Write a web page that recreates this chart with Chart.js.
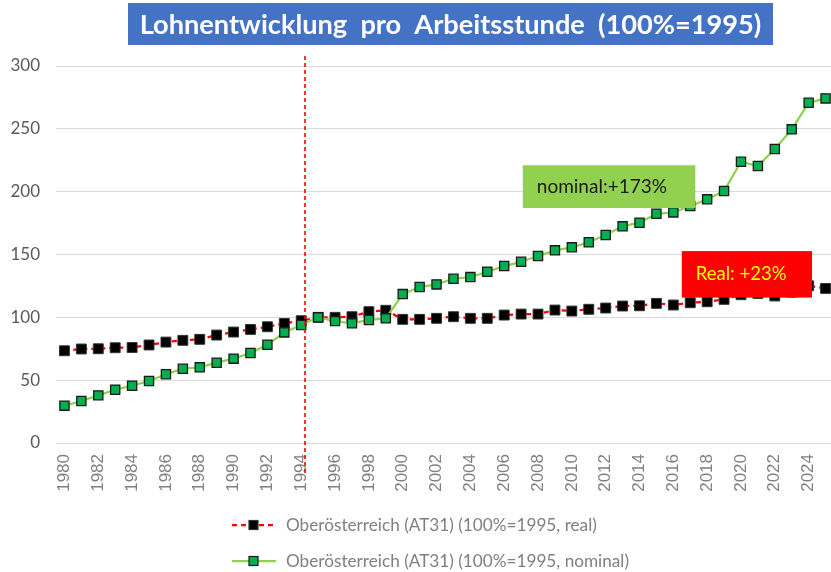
<!DOCTYPE html>
<html>
<head>
<meta charset="utf-8">
<script src="https://cdn.jsdelivr.net/npm/chart.js@4.4.1/dist/chart.umd.min.js"></script>
<style>
  html, body { margin: 0; padding: 0; background: #fff; overflow: hidden; }
  #wrap { width: 831px; height: 572px; position: relative; overflow: hidden; }
</style>
</head>
<body>
<div id="wrap"><canvas id="c" width="842" height="572"></canvas></div>
<script>
// ---- data ----
const years = [];
for (let y = 1980; y <= 2025; y++) years.push(String(y));

const realValues = [
  73.4, 74.8, 75.0, 75.8, 76.0, 78.0, 80.3, 81.7, 82.5, 85.9,
  88.3, 90.4, 92.5, 95.2, 97.3, 100.0, 100.0, 100.5, 104.5, 105.6,
  98.4, 98.4, 99.2, 100.5, 99.2, 99.2, 101.8, 102.6, 102.6, 105.8,
  105.0, 106.4, 107.4, 109.0, 109.2, 111.1, 109.8, 111.6, 112.4, 114.3,
  118.0, 119.0, 117.0, 120.0, 125.1, 123.0
];
const nominalValues = [
  29.7, 33.4, 37.9, 42.4, 45.6, 49.3, 54.7, 59.1, 60.2, 63.9,
  67.1, 71.6, 78.2, 88.0, 93.9, 100.0, 97.0, 95.2, 97.9, 99.2,
  118.5, 124.1, 126.2, 130.7, 132.0, 136.3, 140.8, 144.2, 148.8, 153.3,
  155.7, 159.7, 165.5, 172.4, 175.3, 182.4, 183.5, 188.5, 193.9, 200.5,
  223.8, 220.4, 233.9, 249.6, 270.7, 274.2
];
const seriesLabels = [
  'Oberösterreich (AT31) (100%=1995, real)',
  'Oberösterreich (AT31) (100%=1995, nominal)'
];
const yTicks = [0, 50, 100, 150, 200, 250, 300];
const titleText = 'Lohnentwicklung  pro  Arbeitsstunde  (100%=1995)';
const noteNominal = 'nominal:+173%';
const noteReal = 'Real: +23%';
const markerYear = 1994;

// ---- plugins ----
const decorPlugin = {
  id: 'decor',
  afterDatasetsDraw(chart) {
    const ctx = chart.ctx;
    const xs = chart.scales.x, ys = chart.scales.y;
    const ca = chart.chartArea;
    ctx.save();
    // vertical dashed marker line
    const idx = years.indexOf(String(markerYear)) + 0.25;
    const lx = Math.round(xs.getPixelForValue(idx));
    ctx.strokeStyle = '#FF0000';
    ctx.lineWidth = 1.6;
    ctx.setLineDash([4, 3]);
    ctx.beginPath();
    ctx.moveTo(lx, ca.top - 10);
    ctx.lineTo(lx, ca.bottom + 31);
    ctx.stroke();
    ctx.setLineDash([]);

    // annotation boxes (data coordinates: category index / value)
    const boxes = [
      { x0: 27.1, x1: 37.3, y0: 187, y1: 221, fill: '#92D050', color: '#1a1a1a', text: noteNominal, pad: 14, size: 19 },
      { x0: 36.5, x1: 44.2, y0: 115.7, y1: 152.7, fill: '#FF0000', color: '#FFFF00', text: noteReal, pad: 14, size: 18.5 }
    ];
    boxes.forEach(b => {
      const px0 = xs.getPixelForValue(b.x0), px1 = xs.getPixelForValue(b.x1);
      const py0 = ys.getPixelForValue(b.y1), py1 = ys.getPixelForValue(b.y0);
      ctx.fillStyle = b.fill;
      ctx.fillRect(px0, py0, px1 - px0, py1 - py0);
      ctx.fillStyle = b.color;
      ctx.font = b.size + 'px Lato';
      ctx.textBaseline = 'middle';
      ctx.textAlign = 'left';
      ctx.fillText(b.text, px0 + b.pad, (py0 + py1) / 2);
    });
    ctx.restore();
  },
  afterDraw(chart) {
    const ctx = chart.ctx;
    ctx.save();
    // title box
    ctx.fillStyle = '#4472C4';
    ctx.fillRect(128, 3, 645, 42);
    let fs = 28;
    ctx.font = 'bold ' + fs + 'px Lato';
    const w = ctx.measureText(titleText).width;
    fs = Math.min(30, fs * 622 / w);
    ctx.font = 'bold ' + fs + 'px Lato';
    ctx.fillStyle = '#ffffff';
    ctx.textAlign = 'center';
    ctx.textBaseline = 'middle';
    ctx.fillText(titleText, 128 + 645 / 2, 25);

    // custom legend (two stacked rows)
    const ds = chart.data.datasets;
    const order = [1, 0]; // real first, nominal second
    const rowY = [525, 561];
    order.forEach((di, r) => {
      const d = ds[di];
      const y = rowY[r];
      ctx.strokeStyle = d.borderColor;
      ctx.lineWidth = 2.25;
      ctx.setLineDash(d.borderDash || []);
      ctx.beginPath();
      ctx.moveTo(232, y);
      ctx.lineTo(276, y);
      ctx.stroke();
      ctx.setLineDash([]);
      ctx.fillStyle = d.pointBackgroundColor;
      ctx.fillRect(249, y - 4.5, 9, 9);
      ctx.strokeStyle = d.pointBorderColor;
      ctx.lineWidth = 1.2;
      ctx.strokeRect(249, y - 4.5, 9, 9);
      ctx.fillStyle = '#808080';
      ctx.font = '17.2px Lato';
      ctx.textAlign = 'left';
      ctx.textBaseline = 'middle';
      ctx.fillText(d.label, 286, y);
    });
    ctx.restore();
  }
};

new Chart(document.getElementById('c'), {
  type: 'line',
  data: {
    labels: years,
    datasets: [
      {
        label: seriesLabels[1],
        data: nominalValues,
        borderColor: '#92D050',
        borderWidth: 2.25,
        pointStyle: 'rect',
        pointRadius: 6.5,
        pointBackgroundColor: '#00B050',
        pointBorderColor: '#1a1a1a',
        pointBorderWidth: 1.3,
        tension: 0
      },
      {
        label: seriesLabels[0],
        data: realValues,
        borderColor: '#FF0000',
        borderWidth: 2.25,
        borderDash: [5, 4],
        pointStyle: 'rect',
        pointRadius: 7,
        pointBackgroundColor: '#000000',
        pointBorderColor: '#333333',
        pointBorderWidth: 1,
        tension: 0
      }
    ]
  },
  options: {
    responsive: false,
    animation: false,
    events: [],
    layout: { padding: { top: 66, left: 0, right: 0, bottom: 79 } },
    plugins: { legend: { display: false }, title: { display: false }, tooltip: { enabled: false } },
    scales: {
      x: {
        offset: true,
        grid: { display: false, drawTicks: false },
        border: { display: false },
        afterFit(s) { s.height = 50; s.paddingLeft = 0; s.paddingRight = 0; },
        ticks: {
          autoSkip: false,
          minRotation: 90,
          maxRotation: 90,
          padding: 11,
          color: '#808080',
          font: { family: "'Liberation Sans', Arial, sans-serif", size: 17 },
          callback(v, i) { return i % 2 === 0 ? years[i] : ''; }
        }
      },
      y: {
        min: 0,
        max: 300,
        afterFit(s) { s.width = 56; },
        afterBuildTicks(s) { s.ticks = yTicks.map(v => ({ value: v })); },
        grid: { color: '#D9D9D9', lineWidth: 1, drawTicks: false },
        border: { display: false },
        ticks: {
          padding: 16,
          color: '#595959',
          font: { family: 'Lato', size: 17 }
        }
      }
    }
  },
  plugins: [decorPlugin]
});
</script>
</body>
</html>
